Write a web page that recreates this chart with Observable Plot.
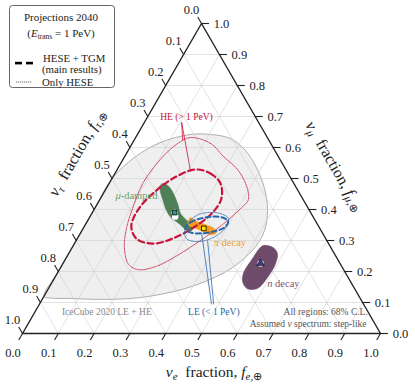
<!DOCTYPE html>
<html><head><meta charset="utf-8">
<script src="https://cdn.jsdelivr.net/npm/d3@7"></script>
<script src="https://cdn.jsdelivr.net/npm/@observablehq/plot@0.6"></script>
<style>
html,body{margin:0;padding:0;background:#fff;}
#chart svg{display:block;}
</style></head>
<body><div id="chart"></div>
<script>
// ---- data: flavour fractions [f_e, f_mu] (f_tau = 1 - f_e - f_mu) ----
const ticks = [0, 0.1, 0.2, 0.3, 0.4, 0.5, 0.6, 0.7, 0.8, 0.9, 1.0];
const tickLabels = ["0.0","0.1","0.2","0.3","0.4","0.5","0.6","0.7","0.8","0.9","1.0"];

const icecube2020 = [[0.031,0.571],[0.077,0.616],[0.148,0.642],[0.204,0.642],[0.266,0.629],[0.328,0.590],[0.386,0.535],[0.442,0.468],[0.486,0.397],[0.510,0.332],[0.511,0.281],[0.493,0.232],[0.466,0.197],[0.427,0.168],[0.382,0.145],[0.322,0.126],[0.246,0.113],[0.163,0.110],[0.078,0.113],[0.025,0.114],[0,0.12],[0,0.2],[0,0.3],[0,0.4],[0,0.5]];
const heOnlyHese = [[0.153,0.632],[0.219,0.613],[0.276,0.571],[0.336,0.529],[0.387,0.477],[0.415,0.432],[0.409,0.406],[0.383,0.352],[0.347,0.300],[0.303,0.248],[0.264,0.216],[0.221,0.206],[0.185,0.223],[0.146,0.277],[0.120,0.342],[0.104,0.413],[0.094,0.487],[0.104,0.561],[0.125,0.610]];
const heMain = [[0.218,0.529],[0.267,0.516],[0.311,0.484],[0.338,0.435],[0.336,0.390],[0.307,0.342],[0.266,0.306],[0.218,0.290],[0.165,0.306],[0.130,0.348],[0.124,0.406],[0.143,0.461],[0.173,0.503]];
const leOnlyHese = [[0.288,0.329],[0.285,0.358],[0.296,0.381],[0.322,0.390],[0.359,0.387],[0.390,0.371],[0.397,0.345],[0.387,0.319],[0.361,0.300],[0.330,0.297],[0.305,0.306]];
const leMain = [[0.286,0.339],[0.290,0.358],[0.312,0.371],[0.342,0.377],[0.372,0.374],[0.394,0.361],[0.393,0.342],[0.369,0.329],[0.336,0.323],[0.306,0.326]];
const muDamped = [[0.152,0.484],[0.172,0.474],[0.199,0.448],[0.226,0.416],[0.248,0.387],[0.272,0.368],[0.299,0.348],[0.307,0.333],[0.292,0.333],[0.264,0.352],[0.228,0.374],[0.201,0.400],[0.178,0.429],[0.156,0.458],[0.146,0.477]];
const piDecay = [[0.282,0.374],[0.305,0.361],[0.326,0.355],[0.343,0.348],[0.365,0.339],[0.379,0.326],[0.368,0.319],[0.348,0.326],[0.326,0.335],[0.307,0.342],[0.285,0.352],[0.282,0.365]];
const nDecay = [[0.531,0.284],[0.562,0.277],[0.583,0.258],[0.594,0.226],[0.594,0.181],[0.583,0.145],[0.555,0.145],[0.533,0.165],[0.520,0.194],[0.522,0.245],[0.524,0.271]];
const innerSpots = [[0.230,0.390],[0.238,0.377],[0.552,0.226]];
const bestMuDamped = [[0.230,0.390]];
const bestPiDecay = [[0.337,0.339]];
const bestNDecay = [[0.552,0.226]];
const heLeaders = [[[0.104,0.681],[0.136,0.623]],[[0.104,0.681],[0.206,0.526]]];
const leLeaders = [[[0.481,0.094],[0.339,0.323]],[[0.487,0.094],[0.367,0.300]]];
const labelHE = [{fe:0.108, fm:0.700, text:"HE (> 1 PeV)"}];
const labelLE = [{fe:0.499, fm:0.071, text:"LE (< 1 PeV)"}];
const labelMu = [{fe:0.037, fm:0.445, text:"μ-damped"}];
const labelPi = [{fe:0.387, fm:0.294, text:"π decay"}];
const labelN  = [{fe:0.603, fm:0.161, text:"n decay"}];
const labelIce = [{fe:0.200, fm:0.071, text:"IceCube 2020 LE + HE"}];
const notes = [{fe:0.929, fm:0.071, text:"All regions: 68% C.L."},{fe:0.945, fm:0.032, text:"Assumed ν spectrum: step-like"}];

// ---- geometry helpers ----
const S3 = Math.sqrt(3) / 2;
const cart = (fe, fm) => ({x: fe + fm / 2, y: fm * S3});
const poly = pts => pts.map(([fe, fm]) => cart(fe, fm));
const links = arr => arr.map(([a, b]) => { const p = cart(...a), q = cart(...b); return {x1:p.x, y1:p.y, x2:q.x, y2:q.y}; });
const lab = arr => arr.map(d => ({...cart(d.fe, d.fm), text: d.text}));

const inner = ticks.slice(1, -1);
const grid = inner.flatMap(v => [
  [[v,0],[v,1-v]], [[0,v],[1-v,v]], [[1-v,0],[0,1-v]]
]);
const L = 0.021;
const bottomT = ticks.map((v,i) => { const b = cart(v,0); return {x1:b.x, y1:b.y, x2:b.x-0.5*L, y2:b.y-S3*L, label:tickLabels[i]}; });
const rightT = ticks.map((v,i) => { const b = cart(1-v,v); return {x1:b.x, y1:b.y, x2:b.x+L, y2:b.y, label:tickLabels[i]}; });
const leftT = ticks.map((v,i) => { const b = cart(0,1-v); return {x1:b.x, y1:b.y, x2:b.x-0.5*L, y2:b.y+S3*L, label:tickLabels[i]}; });

const SERIF = "'Liberation Serif','Times New Roman',serif";
const RED = "#c8143c", BLUE = "#2a66ad";

const closedLine = (pts, o) => Plot.line(poly(pts), {x:"x", y:"y", curve:"catmull-rom-closed", ...o});

const plot = Plot.plot({
  width: 415, height: 386,
  marginLeft: 22, marginRight: 35, marginTop: 23, marginBottom: 53,
  x: {domain: [0, 1], axis: null},
  y: {domain: [0, S3], axis: null},
  style: {fontFamily: SERIF, background: "#fff", overflow: "visible", color: "#222"},
  marks: [
    closedLine(icecube2020, {fill:"#efefef", stroke:"#9c9c9c", strokeWidth:0.8}),
    Plot.link(links(grid), {x1:"x1", y1:"y1", x2:"x2", y2:"y2", stroke:"#cfcfcf", strokeWidth:0.6}),
    closedLine(muDamped, {fill:"#4f7f57", stroke:"#4f7f57", strokeWidth:0.6}),
    closedLine(piDecay, {fill:"#f39c1f", stroke:"#f39c1f", strokeWidth:0.6}),
    closedLine(nDecay, {fill:"#6f4b6b", stroke:"#6f4b6b", strokeWidth:0.6}),
    Plot.dot(poly(innerSpots), {x:"x", y:"y", r:3.2, fill:"#fff", stroke:"none"}),
    closedLine(heOnlyHese, {fill:"none", stroke:RED, strokeWidth:0.8, strokeDasharray:"1.6,1.1"}),
    closedLine(heMain, {fill:"none", stroke:RED, strokeWidth:2.2, strokeDasharray:"6,3.5"}),
    closedLine(leOnlyHese, {fill:"none", stroke:BLUE, strokeWidth:0.8, strokeDasharray:"1.6,1.1"}),
    closedLine(leMain, {fill:"none", stroke:BLUE, strokeWidth:2, strokeDasharray:"5,3"}),
    Plot.link(links(heLeaders), {x1:"x1", y1:"y1", x2:"x2", y2:"y2", stroke:RED, strokeWidth:0.8}),
    Plot.link(links(leLeaders), {x1:"x1", y1:"y1", x2:"x2", y2:"y2", stroke:BLUE, strokeWidth:0.8}),
    Plot.dot(poly(bestMuDamped), {x:"x", y:"y", symbol:"square", r:2.6, fill:"#2a9d8f", stroke:"#000", strokeWidth:0.8}),
    Plot.dot(poly(bestPiDecay), {x:"x", y:"y", symbol:"square", r:2.6, fill:"#ffe600", stroke:"#000", strokeWidth:0.8}),
    Plot.dot(poly(bestNDecay), {x:"x", y:"y", symbol:"triangle", r:2.8, fill:"#3a3d8c", stroke:"#000", strokeWidth:0.6}),
    Plot.line([cart(0,0), cart(1,0), cart(0,1)], {x:"x", y:"y", curve:"linear-closed", stroke:"#222", strokeWidth:1.4}),
    Plot.link(bottomT, {x1:"x1", y1:"y1", x2:"x2", y2:"y2", stroke:"#222", strokeWidth:1.1}),
    Plot.link(rightT, {x1:"x1", y1:"y1", x2:"x2", y2:"y2", stroke:"#222", strokeWidth:1.1}),
    Plot.link(leftT, {x1:"x1", y1:"y1", x2:"x2", y2:"y2", stroke:"#222", strokeWidth:1.1}),
    Plot.text(bottomT, {x:"x1", y:"y1", text:"label", dx:-9.5, dy:19, fontSize:12.5, fill:"#222"}),
    Plot.text(rightT, {x:"x1", y:"y1", text:"label", dx:20, dy:0, fontSize:12.5, fill:"#222"}),
    Plot.text(leftT, {x:"x1", y:"y1", text:"label", dx:-10, dy:-14, fontSize:12.5, fill:"#222"}),
    Plot.text(lab(labelHE), {x:"x", y:"y", text:"text", fontSize:9.5, fill:RED}),
    Plot.text(lab(labelLE), {x:"x", y:"y", text:"text", fontSize:9.5, fill:BLUE}),
    Plot.text(lab(labelMu), {x:"x", y:"y", text:"text", textAnchor:"start", fontSize:10.5, fill:"#6a9f70"}),
    Plot.text(lab(labelPi), {x:"x", y:"y", text:"text", textAnchor:"start", fontSize:10.5, fill:"#f0a030"}),
    Plot.text(lab(labelN), {x:"x", y:"y", text:"text", textAnchor:"start", fontSize:10.5, fill:"#7b5a78"}),
    Plot.text(lab(labelIce), {x:"x", y:"y", text:"text", fontSize:9.5, fill:"#8a8a8a"}),
    Plot.text(lab(notes), {x:"x", y:"y", text:"text", textAnchor:"end", fontSize:9.5, fill:"#555"})
  ]
});
document.getElementById("chart").appendChild(plot);

// italic parts
const italicMap = {
  "μ-damped": '<tspan font-style="italic">μ</tspan>-damped',
  "π decay": '<tspan font-style="italic">π</tspan> decay',
  "n decay": '<tspan font-style="italic">n</tspan> decay',
  "Assumed ν spectrum: step-like": 'Assumed <tspan font-style="italic">ν</tspan> spectrum: step-like'
};
d3.select(plot).selectAll("text").each(function() {
  const t = this.textContent;
  if (italicMap[t]) this.innerHTML = italicMap[t];
});

// scales
const sx = plot.scale("x"), sy = plot.scale("y");
const X = sx.apply ? v => sx.apply(v) : v => 22 + v * 358;
const Y = sy.apply ? v => sy.apply(v) : v => 333 - v * 358;
const svg = d3.select(plot);

function title(cx, cy, rot, sub, size) {
  const g = svg.append("g").attr("transform", `translate(${cx},${cy}) rotate(${rot})`);
  g.append("text").attr("x", 0).attr("y", 5).attr("text-anchor", "middle")
    .attr("font-family", SERIF).attr("font-size", size).attr("fill", "#222")
    .attr("xml:space", "preserve")
    .html(`<tspan font-style="italic">ν</tspan><tspan font-style="italic" font-size="${size*0.7}" dy="3">${sub}</tspan><tspan dy="-3">  fraction, </tspan><tspan font-style="italic">f</tspan><tspan font-style="italic" font-size="${size*0.7}" dy="3">${sub}</tspan><tspan font-size="${size*0.7}">,⊕</tspan>`);
}
const bm = cart(0.5, 0), rm = cart(0.5, 0.5), lm = cart(0, 0.5);
title(X(bm.x) + 13, Y(bm.y) + 39, 0, "e", 15.5);
title(X(rm.x) + 44, Y(rm.y) - 12, 60, "μ", 16);
title(X(lm.x) - 34.5, Y(lm.y) - 25, -60, "τ", 16);

// legend
const lg = svg.append("g").attr("font-family", SERIF).attr("text-anchor", "start");
lg.append("rect").attr("x", 9.5).attr("y", 5.5).attr("width", 105).attr("height", 82).attr("rx", 3)
  .style("fill", "#fff").style("stroke", "#555").style("stroke-width", 0.9);
lg.append("text").attr("x", 61).attr("y", 21).attr("text-anchor", "middle").attr("font-size", 11).style("fill", "#222").text("Projections 2040");
lg.append("text").attr("x", 61).attr("y", 37).attr("text-anchor", "middle").attr("font-size", 11).style("fill", "#222")
  .html('(<tspan font-style="italic">E</tspan><tspan font-size="7.5" dy="2">trans</tspan><tspan dy="-2"> = 1 PeV)</tspan>');
// thick dashed sample drawn as two solid black rectangles
lg.append("rect").attr("x", 15).attr("y", 61.8).attr("width", 7).attr("height", 2.6).style("fill", "#000000").style("stroke", "none");
lg.append("rect").attr("x", 26).attr("y", 61.8).attr("width", 7).attr("height", 2.6).style("fill", "#000000").style("stroke", "none");
lg.append("text").attr("x", 43).attr("y", 61.5).attr("font-size", 10.8).style("fill", "#222").text("HESE + TGM");
lg.append("text").attr("x", 42).attr("y", 73).attr("font-size", 10.8).style("fill", "#222").text("(main results)");
lg.append("path").attr("d", "M16,82H32")
  .style("stroke", "#000").style("stroke-width", 0.6).style("stroke-dasharray", "1.2,0.8").style("fill", "none");
lg.append("text").attr("x", 42).attr("y", 85.5).attr("font-size", 10.8).style("fill", "#222").text("Only HESE");
</script></body></html>
